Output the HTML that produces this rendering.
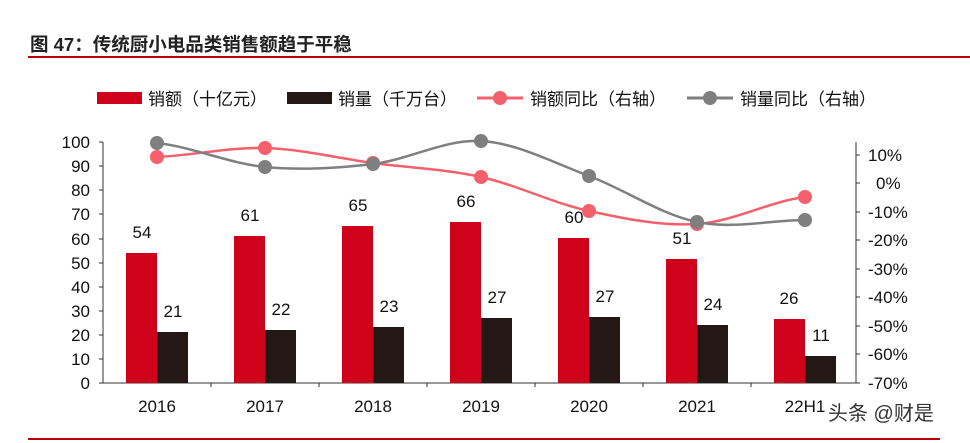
<!DOCTYPE html>
<html><head><meta charset="utf-8"><style>
html,body{margin:0;padding:0;background:#fff;}
svg{display:block;font-family:"Liberation Sans","Noto Sans CJK SC",sans-serif;}
</style></head><body>
<svg width="970" height="443" viewBox="0 0 970 443">
<text x="30" y="51" font-size="18.5" font-weight="bold" fill="#222">图 47：传统厨小电品类销售额趋于平稳</text>
<line x1="28" y1="57" x2="970" y2="57" stroke="#b00" stroke-width="2"/>
<!-- legend -->
<rect x="97" y="92" width="45" height="12" fill="#d0021b"/>
<text x="148" y="105" font-size="17" fill="#111">销额（十亿元）</text>
<rect x="287" y="92" width="45" height="12" fill="#231815"/>
<text x="338" y="105" font-size="17" fill="#111">销量（千万台）</text>
<line x1="477" y1="98" x2="523" y2="98" stroke="#f4606c" stroke-width="3"/>
<circle cx="500" cy="98" r="7" fill="#f4606c"/>
<text x="530" y="105" font-size="17" fill="#111">销额同比（右轴）</text>
<line x1="687" y1="98" x2="733" y2="98" stroke="#7f7f7f" stroke-width="3"/>
<circle cx="710" cy="98" r="7" fill="#7f7f7f"/>
<text x="740" y="105" font-size="17" fill="#111">销量同比（右轴）</text>
<!-- axes -->
<g stroke="#333" stroke-width="1">
<line x1="103" y1="142" x2="103" y2="383"/>
<line x1="103" y1="383" x2="856" y2="383"/>
<line x1="856" y1="142" x2="856" y2="383"/>
<line x1="99" y1="142" x2="103" y2="142"/><line x1="99" y1="166" x2="103" y2="166"/><line x1="99" y1="190" x2="103" y2="190"/><line x1="99" y1="214" x2="103" y2="214"/><line x1="99" y1="239" x2="103" y2="239"/><line x1="99" y1="263" x2="103" y2="263"/><line x1="99" y1="287" x2="103" y2="287"/><line x1="99" y1="311" x2="103" y2="311"/><line x1="99" y1="335" x2="103" y2="335"/><line x1="99" y1="359" x2="103" y2="359"/><line x1="99" y1="383" x2="103" y2="383"/>
<line x1="856" y1="155" x2="860" y2="155"/><line x1="856" y1="183" x2="860" y2="183"/><line x1="856" y1="212" x2="860" y2="212"/><line x1="856" y1="240" x2="860" y2="240"/><line x1="856" y1="269" x2="860" y2="269"/><line x1="856" y1="297" x2="860" y2="297"/><line x1="856" y1="326" x2="860" y2="326"/><line x1="856" y1="354" x2="860" y2="354"/><line x1="856" y1="383" x2="860" y2="383"/>
<line x1="211" y1="383" x2="211" y2="387"/><line x1="319" y1="383" x2="319" y2="387"/><line x1="427" y1="383" x2="427" y2="387"/><line x1="535" y1="383" x2="535" y2="387"/><line x1="643" y1="383" x2="643" y2="387"/><line x1="751" y1="383" x2="751" y2="387"/>
</g>
<g font-size="17" fill="#111" text-anchor="end">
<text x="90" y="148">100</text><text x="90" y="172">90</text><text x="90" y="196">80</text><text x="90" y="220">70</text><text x="90" y="245">60</text><text x="90" y="269">50</text><text x="90" y="293">40</text><text x="90" y="317">30</text><text x="90" y="341">20</text><text x="90" y="365">10</text><text x="90" y="389">0</text>
</g>
<g font-size="17" fill="#111">
<text x="868" y="161">10%</text><text x="876" y="189">0%</text><text x="868" y="218">-10%</text><text x="868" y="246">-20%</text><text x="868" y="275">-30%</text><text x="868" y="303">-40%</text><text x="868" y="332">-50%</text><text x="868" y="360">-60%</text><text x="868" y="389">-70%</text>
</g>
<g font-size="17" fill="#111" text-anchor="middle">
<text x="157" y="412">2016</text><text x="265" y="412">2017</text><text x="373" y="412">2018</text><text x="481" y="412">2019</text><text x="589" y="412">2020</text><text x="697" y="412">2021</text><text x="805" y="412">22H1</text>
</g>
<!-- bars -->
<g fill="#d0021b">
<rect x="126" y="253" width="31" height="130"/><rect x="234" y="236" width="31" height="147"/><rect x="342" y="226" width="31" height="157"/><rect x="450" y="222" width="31" height="161"/><rect x="558" y="238" width="31" height="145"/><rect x="666" y="259" width="31" height="124"/><rect x="774" y="319" width="31" height="64"/>
</g>
<g fill="#231815">
<rect x="157" y="332" width="31" height="51"/><rect x="265" y="330" width="31" height="53"/><rect x="373" y="327" width="31" height="56"/><rect x="481" y="318" width="31" height="65"/><rect x="589" y="317" width="31" height="66"/><rect x="697" y="325" width="31" height="58"/><rect x="805" y="356" width="31" height="27"/>
</g>
<g font-size="17" fill="#111" text-anchor="middle">
<text x="142" y="238">54</text><text x="250" y="221">61</text><text x="358" y="211">65</text><text x="466" y="207">66</text><text x="574" y="223">60</text><text x="682" y="244">51</text><text x="789" y="304">26</text>
<text x="173" y="317">21</text><text x="281" y="315">22</text><text x="389" y="312">23</text><text x="497" y="303">27</text><text x="605" y="302">27</text><text x="713" y="310">24</text><text x="821" y="341">11</text>
</g>
<!-- lines -->
<path d="M157,157 C193,155.5 229,147 265,148 C301,149 337,158.2 373,163 C409,167.8 445,169 481,177 C517,185 553,203.2 589,211 C625,218.8 661,226.3 697,224 C733,221.7 769,201.5 805,197" fill="none" stroke="#f4606c" stroke-width="2.5"/>
<path d="M157,143 C193,147 229,163.5 265,167 C301,170.5 337,168.3 373,164 C409,159.7 445,139 481,141 C517,143 553,162.5 589,176 C625,189.5 661,214.7 697,222 C733,229.3 769,220.3 805,220" fill="none" stroke="#7f7f7f" stroke-width="2.5"/>
<g fill="#f4606c"><circle cx="157" cy="157" r="7"/><circle cx="265" cy="148" r="7"/><circle cx="373" cy="163" r="7"/><circle cx="481" cy="177" r="7"/><circle cx="589" cy="211" r="7"/><circle cx="697" cy="224" r="7"/><circle cx="805" cy="197" r="7"/></g>
<g fill="#7f7f7f"><circle cx="157" cy="143" r="7"/><circle cx="265" cy="167" r="7"/><circle cx="373" cy="164" r="7"/><circle cx="481" cy="141" r="7"/><circle cx="589" cy="176" r="7"/><circle cx="697" cy="222" r="7"/><circle cx="805" cy="220" r="7"/></g>
<text x="828" y="420" font-size="20" fill="#333">头条 @财是</text>
<line x1="28" y1="439" x2="940" y2="439" stroke="#b00" stroke-width="2"/>
</svg>
</body></html>
